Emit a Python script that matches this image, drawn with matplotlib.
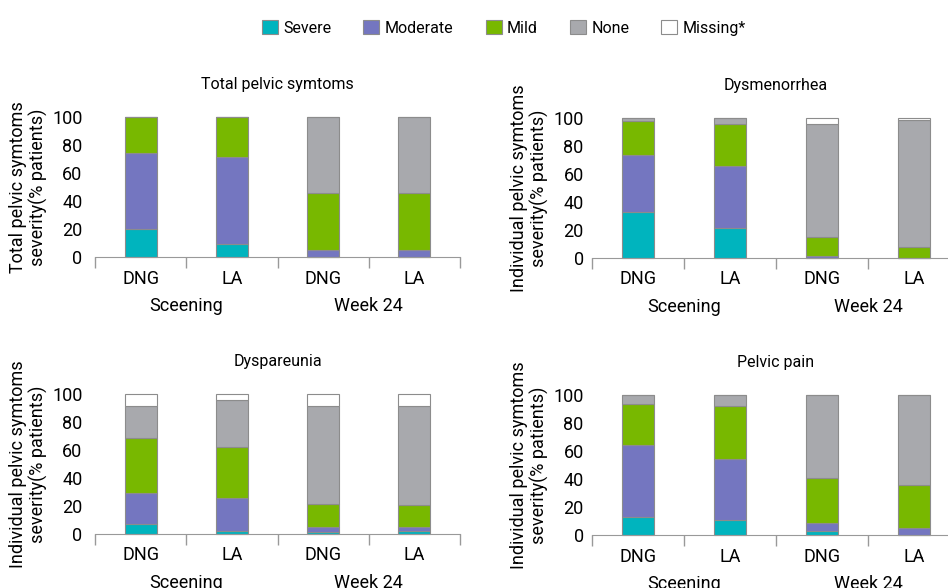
import numpy as np
import matplotlib
matplotlib.use("Agg")
import matplotlib.pyplot as plt
from matplotlib.patches import Patch

plt.rcParams['font.family'] = ['Roboto', 'DejaVu Sans']

### Data ###

categories = ["DNG", "LA", "DNG", "LA"]
groups = ["Sceening", "Week 24"]
levels = ["Severe", "Moderate", "Mild", "None", "Missing*"]
colors = ["#00B4BE", "#7476C0", "#78B800", "#A8A9AD", "#FFFFFF"]

titles = ["Total pelvic symtoms", "Dysmenorrhea", "Dyspareunia", "Pelvic pain"]
ylabels = ["Total pelvic symtoms\nseverity(% patients)",
           "Individual pelvic symtoms\nseverity(% patients)",
           "Individual pelvic symtoms\nseverity(% patients)",
           "Individual pelvic symtoms\nseverity(% patients)"]

# % patients per bar: DNG screening, LA screening, DNG week 24, LA week 24
total_severe = [20, 9.5, 0, 0]
total_moderate = [54.5, 62, 5, 5]
total_mild = [25.5, 28.5, 40.5, 40.5]
total_none = [0, 0, 54.5, 54.5]
total_missing = [0, 0, 0, 0]

dysmen_severe = [32.5, 21.5, 0, 0]
dysmen_moderate = [41, 44.5, 1.5, 0]
dysmen_mild = [24, 29.5, 13.5, 7.5]
dysmen_none = [2.5, 4.5, 81, 91]
dysmen_missing = [0, 0, 4, 1.5]

dyspar_severe = [7, 2, 1.5, 2]
dyspar_moderate = [22.5, 24, 3.5, 3]
dyspar_mild = [39, 36, 16.5, 15.5]
dyspar_none = [23, 34, 70, 71]
dyspar_missing = [8.5, 4, 8.5, 8.5]

pain_severe = [13, 11, 3, 0]
pain_moderate = [51, 43, 5.5, 5]
pain_mild = [29.5, 38, 32.5, 30.5]
pain_none = [6.5, 8, 59, 64.5]
pain_missing = [0, 0, 0, 0]

panels = [
    [total_severe, total_moderate, total_mild, total_none, total_missing],
    [dysmen_severe, dysmen_moderate, dysmen_mild, dysmen_none, dysmen_missing],
    [dyspar_severe, dyspar_moderate, dyspar_mild, dyspar_none, dyspar_missing],
    [pain_severe, pain_moderate, pain_mild, pain_none, pain_missing],
]

### Layout (pixels) ###

W, H = 948, 588
# left, y of zero line, width, y-tick pad (pt)
boxes = [
    (95, 257, 365, 9.0), (592, 258, 368, 6.0),
    (95, 534, 365, 9.0), (592, 535, 368, 6.0),
]
axis_h = 140

fig = plt.figure(figsize=(W / 100, H / 100), dpi=100)


def stacked_panel(ax, series, title, ylabel, ypad):
    x = np.arange(len(categories))
    bottom = np.zeros(len(categories))
    for vals, c in zip(series, colors):
        ax.bar(x, vals, width=0.35, bottom=bottom, color=c,
               edgecolor="#8C8C8C", linewidth=0.8, clip_on=False)
        bottom += np.array(vals)

    ax.set_xlim(-0.5, len(categories) - 0.5)
    ax.set_ylim(0, 100)
    ax.set_yticks(range(0, 101, 20))
    ax.tick_params(axis='y', length=0, labelsize=13, pad=ypad)

    ax.set_xticks(x)
    ax.set_xticklabels(categories, fontsize=13)
    ax.set_xticks(np.arange(-0.5, len(categories)), minor=True)
    ax.tick_params(axis='x', which='major', length=0, pad=9)
    ax.tick_params(axis='x', which='minor', length=8, width=1, color="#999999", direction='out')

    for s in ['top', 'right', 'left']:
        ax.spines[s].set_visible(False)
    ax.spines['bottom'].set_color("#999999")

    for i, g in enumerate(groups):
        ax.annotate(g, xy=(2 * i + 0.5, 0), xycoords=('data', 'axes fraction'),
                    xytext=(0, -35), textcoords='offset points',
                    ha='center', va='center', fontsize=13)

    ax.set_title(title, fontsize=11.5, pad=20)
    ax.set_ylabel(ylabel, fontsize=13, labelpad=3, linespacing=1.1)


for (left, zero_y, width, ypad), series, title, ylabel in zip(boxes, panels, titles, ylabels):
    ax = fig.add_axes([left / W, 1 - zero_y / H, width / W, axis_h / H])
    stacked_panel(ax, series, title, ylabel, ypad)

handles = [Patch(facecolor=c, edgecolor="#8C8C8C", linewidth=0.8) for c in colors]
fig.legend(handles, levels, loc='center', bbox_to_anchor=(504 / W, 1 - 28 / H),
           ncol=5, frameon=False, fontsize=11.5, handlelength=1.0, handleheight=1.0,
           handletextpad=0.35, columnspacing=2.0)

fig.savefig("out.png", dpi=100)
